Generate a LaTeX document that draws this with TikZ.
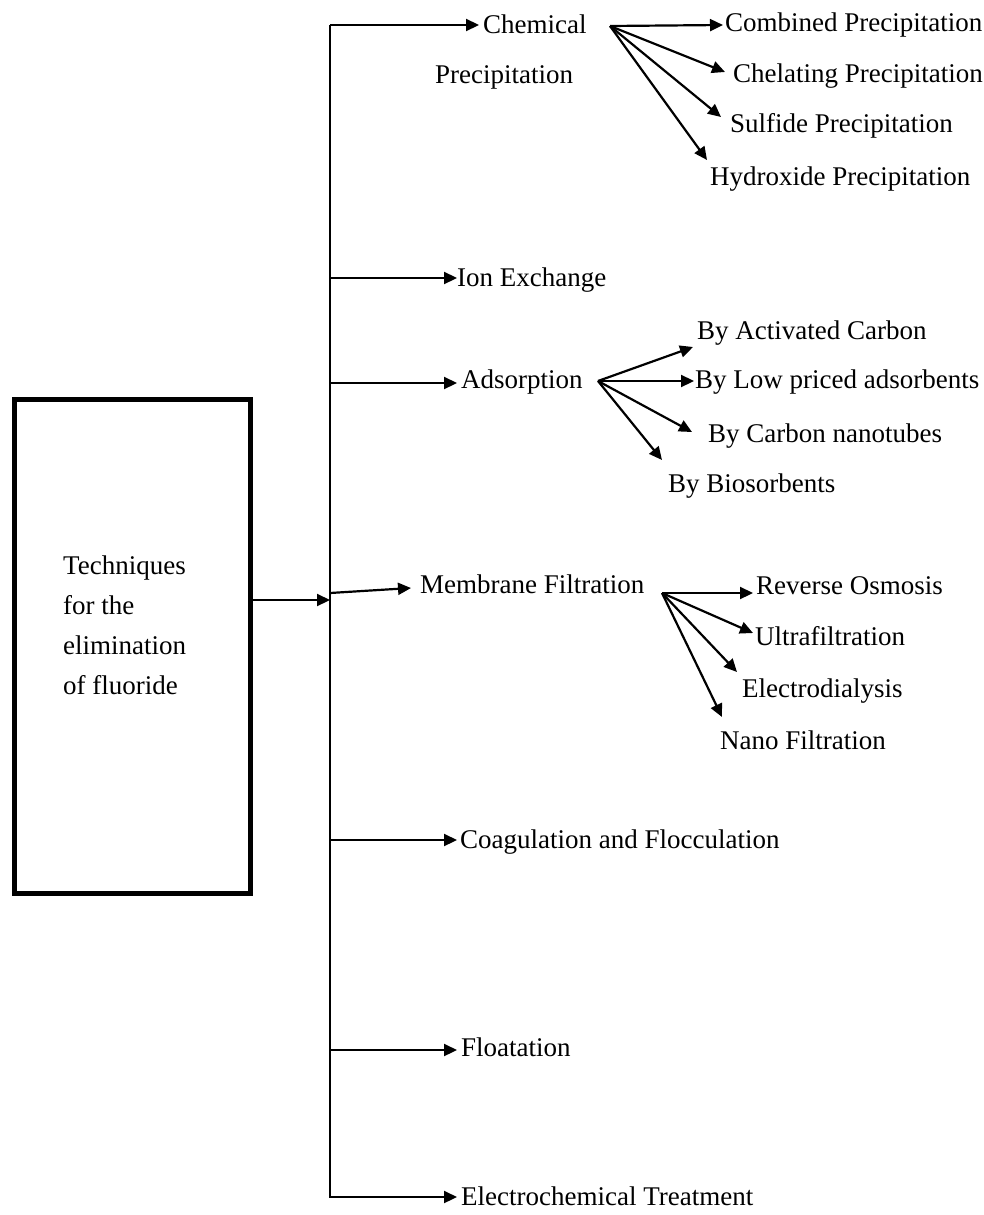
\documentclass[tikz,border=0pt]{standalone}
\usepackage{fontspec}
\setmainfont{Liberation Serif}
\usetikzlibrary{arrows.meta}
\begin{document}
\begin{tikzpicture}[x=1pt,y=-1pt,
  lbl/.style={anchor=west,inner sep=0pt,font=\fontsize{27}{40}\selectfont,text height=19pt,text depth=6pt},
  mlbl/.style={anchor=north west,inner sep=0pt,align=left,font=\fontsize{27}{40}\selectfont},
  ln/.style={line width=2.2pt},
  arr/.style={line width=2.2pt,-{Triangle[length=13pt,width=12pt]}},
  boxstyle/.style={draw,line width=4.5pt,inner sep=0pt,anchor=north west,minimum width=236pt,minimum height=494pt}
]
\useasboundingbox (0,0) rectangle (984,1215);

% main box
\node[boxstyle] (box) at (12,397) {};
\node[mlbl] (boxtext) at (63,556) {Techniques\\for the\\elimination\\of fluoride};

% trunk
\coordinate (ttop) at (330,25);
\coordinate (tbot) at (330,1198);
\coordinate (tmid) at (330,600);
\draw[ln] (ttop) -- (tbot);
\draw[arr] (box.east |- tmid) -- (tmid);

% level 1 nodes
\node[mlbl] (chem) at (435,15) {\hspace*{48pt}Chemical\\[10pt]Precipitation};
\node[lbl] (ion) at (457,280) {Ion Exchange};
\node[lbl] (ads) at (461,382) {Adsorption};
\node[lbl] (mem) at (420,587) {Membrane Filtration};
\node[lbl] (coag) at (460,842) {Coagulation and Flocculation};
\node[lbl] (flot) at (461,1050) {Floatation};
\node[lbl] (elec) at (461,1199) {Electrochemical Treatment};

% level 1 connectors
\coordinate (chemtip) at (479,25);
\draw[arr] (ttop) -- (chemtip);
\coordinate (b2) at (330,278);
\draw[arr] (b2) -- (ion.west |- b2);
\coordinate (b3) at (330,383);
\draw[arr] (b3) -- ([xshift=-4pt]ads.west |- b3);
\coordinate (b4) at (330,593);
\draw[arr] (b4) -- ([xshift=-9pt,yshift=-1pt]mem.west);
\coordinate (b5) at (330,840);
\draw[arr] (b5) -- ([xshift=-3pt]coag.west |- b5);
\coordinate (b6) at (330,1050);
\draw[arr] (b6) -- ([xshift=-4pt]flot.west |- b6);
\coordinate (b7) at (330,1197);
\draw[arr] (b7) -- ([xshift=-4pt]elec.west |- b7);

% chemical precipitation sub-items
\node[lbl] (comb) at (725,25) {Combined Precipitation};
\node[lbl] (chel) at (733,76) {Chelating Precipitation};
\node[lbl] (sulf) at (730,126) {Sulfide Precipitation};
\node[lbl] (hydr) at (710,179) {Hydroxide Precipitation};
\coordinate (cf) at (610,26);
\coordinate (cf2) at (725,72);
\coordinate (cf3) at (721,117);
\coordinate (cf4) at (707,160);
\draw[arr] (cf) -- ([xshift=-2pt]comb.west);
\draw[arr] (cf) -- (cf2);
\draw[arr] (cf) -- (cf3);
\draw[arr] (cf) -- (cf4);

% adsorption sub-items
\node[lbl] (act) at (697,333) {By Activated Carbon};
\node[lbl] (low) at (695,382) {By Low priced adsorbents};
\node[lbl] (cnt) at (708,436) {By Carbon nanotubes};
\node[lbl] (bio) at (668,486) {By Biosorbents};
\coordinate (af) at (598,381);
\coordinate (af1) at (693,347);
\coordinate (af3) at (692,432);
\coordinate (af4) at (662,460);
\draw[arr] (af) -- (af1);
\draw[arr] (af) -- ([xshift=-1pt]low.west |- af);
\draw[arr] (af) -- (af3);
\draw[arr] (af) -- (af4);

% membrane sub-items
\node[lbl] (ro) at (756,588) {Reverse Osmosis};
\node[lbl] (uf) at (755,639) {Ultrafiltration};
\node[lbl] (ed) at (742,691) {Electrodialysis};
\node[lbl] (nf) at (720,743) {Nano Filtration};
\coordinate (mf) at (662,593);
\coordinate (mf2) at (753,633);
\coordinate (mf3) at (737,672);
\coordinate (mf4) at (722,717);
\draw[arr] (mf) -- ([xshift=-3pt]ro.west |- mf);
\draw[arr] (mf) -- (mf2);
\draw[arr] (mf) -- (mf3);
\draw[arr] (mf) -- (mf4);
\end{tikzpicture}
\end{document}
